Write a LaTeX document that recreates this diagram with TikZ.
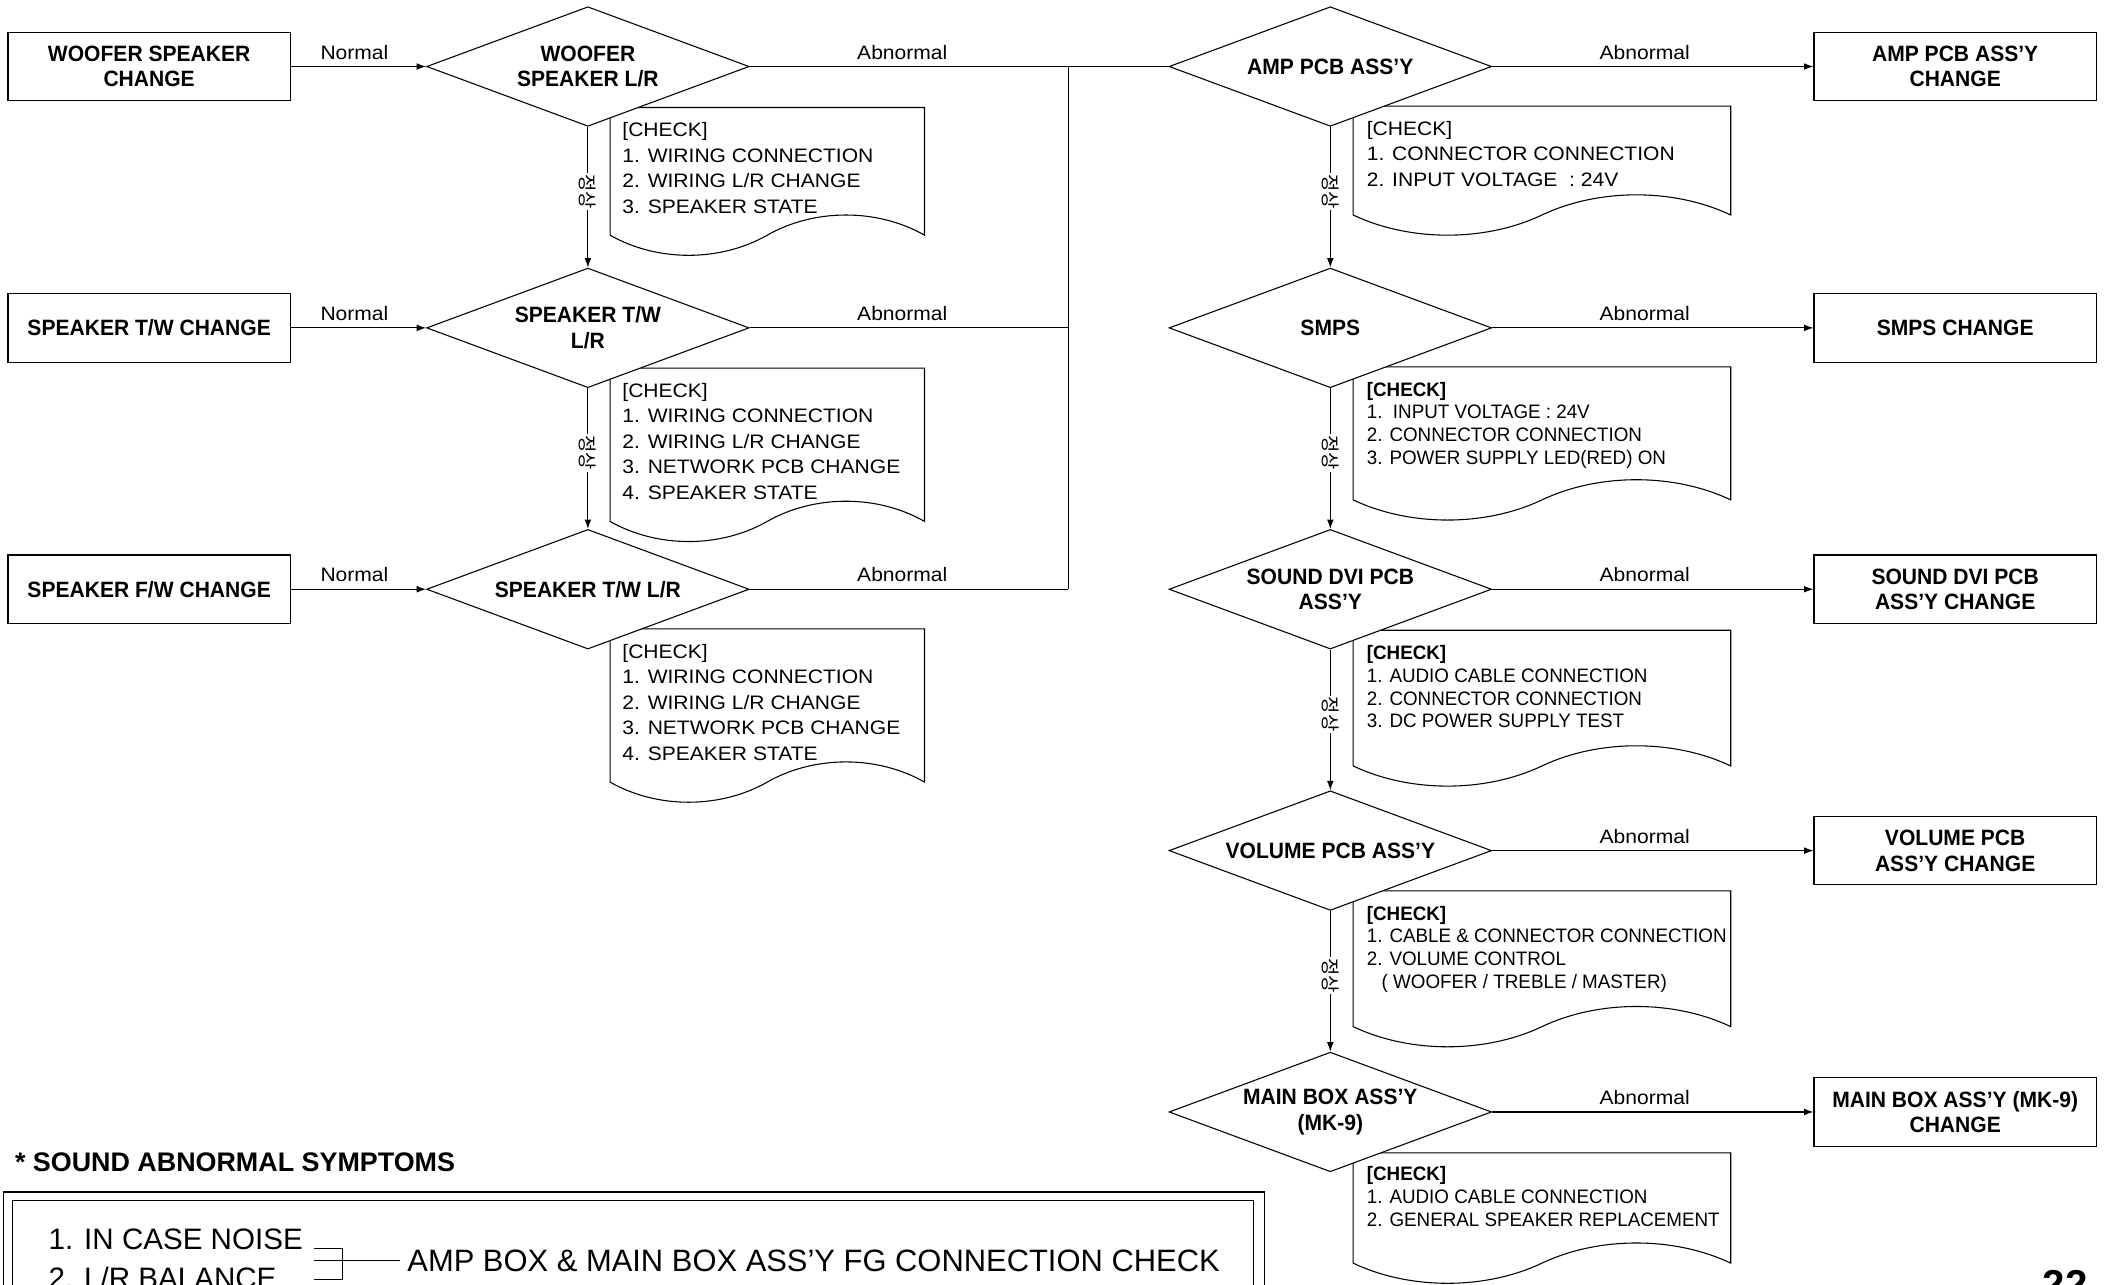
\documentclass[tikz,border=0pt]{standalone}
\usepackage{fontspec}
\setmainfont{Liberation Sans}
\newfontfamily\labfont[FakeStretch=1.08]{Liberation Sans}
\newfontfamily\narfont[FakeStretch=0.965]{Liberation Sans}
\newfontfamily\boldfont[FakeStretch=0.95]{Liberation Sans}
\newfontfamily\krfont{Noto Sans CJK KR}
\usetikzlibrary{shapes.geometric,arrows.meta}
\newcommand\docshape[4]{%
  \draw[notepath] (#1,#2+#4) -- (#1,#2) -- (#1+#3,#2) -- (#1+#3,#2+#4)
    .. controls (#1+0.85*#3,#2+#4-20) and (#1+0.65*#3,#2+#4-20) .. (#1+0.5*#3,#2+#4)
    .. controls (#1+0.35*#3,#2+#4+20) and (#1+0.15*#3,#2+#4+20) .. (#1,#2+#4) -- cycle;}
\begin{document}
\begin{tikzpicture}[x=1pt,y=-1pt,
  box/.style={draw, line width=0.9pt, minimum width=210pt, minimum height=51pt, inner sep=0pt, align=center, font=\boldfont\bfseries\fontsize{16.5}{19}\selectfont},
  dia/.style={draw, diamond, aspect=2.69, minimum width=240pt, minimum height=89pt, inner sep=0pt, fill=white, align=center, line width=0.8pt, font=\boldfont\bfseries\fontsize{16.5}{19}\selectfont},
  conn/.style={line width=0.8pt},
  arr/.style={line width=0.8pt, -{Latex[length=7pt,width=5pt]}},
  lab/.style={font=\labfont\fontsize{14.5}{17}\selectfont, inner sep=0pt},
  ok/.style={font=\krfont\fontsize{14}{14}\selectfont, rotate=-90, fill=white, inner sep=1pt},
  notepath/.style={line width=0.8pt},
  notetxt/.style={anchor=north west, inner sep=0pt, align=left, font=\labfont\fontsize{14.5}{19}\selectfont},
  notetxtb/.style={anchor=north west, inner sep=0pt, align=left, font=\narfont\fontsize{14.5}{17}\selectfont},
  bottxt/.style={anchor=west, inner sep=0pt, font=\fontsize{22}{27}\selectfont}
]
\useasboundingbox (0,0) rectangle (1568,956);

% left boxes
\node[box] (wc) at (111,49.5) {WOOFER SPEAKER\\CHANGE};
\node[box] (tc) at (111,244) {SPEAKER T/W CHANGE};
\node[box] (fc) at (111,438.5) {SPEAKER F/W CHANGE};

% notes (behind diamonds)
\docshape{454}{80}{234}{95}
\docshape{454}{274}{234}{114}
\docshape{454}{468}{234}{114}
\docshape{1007}{79}{281}{81}
\docshape{1007}{273}{281}{99}
\docshape{1007}{469}{281}{101}
\docshape{1007}{663}{281}{101}
\docshape{1007}{858}{281}{82}

\node[notetxt] (n1) at (463,91) {[CHECK]\\1. WIRING CONNECTION\\2. WIRING L/R CHANGE\\3. SPEAKER STATE};
\node[notetxt] (n2) at (463,285) {[CHECK]\\1. WIRING CONNECTION\\2. WIRING L/R CHANGE\\3. NETWORK PCB CHANGE\\4. SPEAKER STATE};
\node[notetxt] (n3) at (463,479) {[CHECK]\\1. WIRING CONNECTION\\2. WIRING L/R CHANGE\\3. NETWORK PCB CHANGE\\4. SPEAKER STATE};
\node[notetxt] (n4) at (1017,90) {[CHECK]\\1. CONNECTOR CONNECTION\\2. INPUT VOLTAGE~~: 24V};
\node[notetxtb] (n5) at (1017,284) {\textbf{[CHECK]}\\1.~~INPUT VOLTAGE~: 24V\\2. CONNECTOR CONNECTION\\3. POWER SUPPLY LED(RED) ON};
\node[notetxtb] (n6) at (1017,480) {\textbf{[CHECK]}\\1. AUDIO CABLE CONNECTION\\2. CONNECTOR CONNECTION\\3. DC POWER SUPPLY TEST};
\node[notetxtb] (n7) at (1017,674) {\textbf{[CHECK]}\\1. CABLE \& CONNECTOR CONNECTION\\2. VOLUME CONTROL\\\hspace*{11pt}( WOOFER / TREBLE / MASTER)};
\node[notetxtb] (n8) at (1017,868) {\textbf{[CHECK]}\\1. AUDIO CABLE CONNECTION\\2. GENERAL SPEAKER REPLACEMENT};

% diamonds
\node[dia] (wd) at (437.5,49.5) {WOOFER\\SPEAKER L/R};
\node[dia] (td) at (437.5,244) {SPEAKER T/W\\L/R};
\node[dia] (fd) at (437.5,438.5) {SPEAKER T/W L/R};
\node[dia] (ad) at (990,49.5) {AMP PCB ASS’Y};
\node[dia] (sd) at (990,244) {SMPS};
\node[dia] (dd) at (990,438.5) {SOUND DVI PCB\\ASS’Y};
\node[dia] (vd) at (990,633) {VOLUME PCB ASS’Y};
\node[dia] (md) at (990,827.5) {MAIN BOX ASS’Y\\(MK-9)};

% right boxes
\node[box] (ab) at (1455,49.5) {AMP PCB ASS’Y\\CHANGE};
\node[box] (sb) at (1455,244) {SMPS CHANGE};
\node[box] (db) at (1455,438.5) {SOUND DVI PCB\\ASS’Y CHANGE};
\node[box] (vb) at (1455,633) {VOLUME PCB\\ASS’Y CHANGE};
\node[box] (mb) at (1455,827.5) {MAIN BOX ASS’Y (MK-9)\\CHANGE};

% normal arrows
\draw[arr] (wc) -- node[lab, above=5pt, xshift=-3pt] {Normal} (wd);
\draw[arr] (tc) -- node[lab, above=5pt, xshift=-3pt] {Normal} (td);
\draw[arr] (fc) -- node[lab, above=5pt, xshift=-3pt] {Normal} (fd);

% abnormal join
\coordinate (j1) at (795,49.5);
\coordinate (j2) at (795,244);
\coordinate (j3) at (795,438.5);
\draw[conn] (wd) -- node[lab, above=5pt, xshift=-5pt] {Abnormal} (j1);
\draw[conn] (td) -- node[lab, above=5pt, xshift=-5pt] {Abnormal} (j2);
\draw[conn] (fd) -- node[lab, above=5pt, xshift=-5pt] {Abnormal} (j3);
\draw[conn] (j3) -- (j1) -- (ad);

% right abnormal arrows
\draw[arr] (ad) -- node[lab, above=5pt, xshift=-6pt] {Abnormal} (ab);
\draw[arr] (sd) -- node[lab, above=5pt, xshift=-6pt] {Abnormal} (sb);
\draw[arr] (dd) -- node[lab, above=5pt, xshift=-6pt] {Abnormal} (db);
\draw[arr] (vd) -- node[lab, above=5pt, xshift=-6pt] {Abnormal} (vb);
\draw[arr] (md) -- node[lab, above=5pt, xshift=-6pt] {Abnormal} (mb);

% down arrows
\draw[arr] (wd) -- node[ok, pos=0.46] {정상} (td);
\draw[arr] (td) -- node[ok, pos=0.46] {정상} (fd);
\draw[arr] (ad) -- node[ok, pos=0.46] {정상} (sd);
\draw[arr] (sd) -- node[ok, pos=0.46] {정상} (dd);
\draw[arr] (dd) -- node[ok, pos=0.46] {정상} (vd);
\draw[arr] (vd) -- node[ok, pos=0.46] {정상} (md);

% bottom symptoms
\node[anchor=west, inner sep=0pt, font=\bfseries\fontsize{20}{24}\selectfont] (hdr) at (11,865) {* SOUND ABNORMAL SYMPTOMS};
\draw[line width=0.9pt] (2.5,887) rectangle (941,1000);
\draw[line width=0.8pt] (9.5,893.5) rectangle (933,1000);
\node[bottxt] (s1) at (36,922) {1. IN CASE NOISE};
\node[bottxt] (s2) at (36,951) {2. L/R BALANCE};
\node[bottxt, font=\fontsize{23}{27}\selectfont] (fg) at (303,938) {AMP BOX \& MAIN BOX ASS’Y FG CONNECTION CHECK};
\coordinate (k1) at (234,929);
\coordinate (k2) at (255,929);
\coordinate (k3) at (255,952);
\coordinate (k4) at (234,952);
\coordinate (k5) at (234,938);
\draw[conn] (k1) -- (k2) -- (k3) -- (k4);
\draw[conn] (k5) -- ([xshift=-5pt]fg.west);

% page number
\node[anchor=north, inner sep=0pt, font=\bfseries\fontsize{30}{30}\selectfont] (pg) at (1537,945) {22};
\end{tikzpicture}
\end{document}
